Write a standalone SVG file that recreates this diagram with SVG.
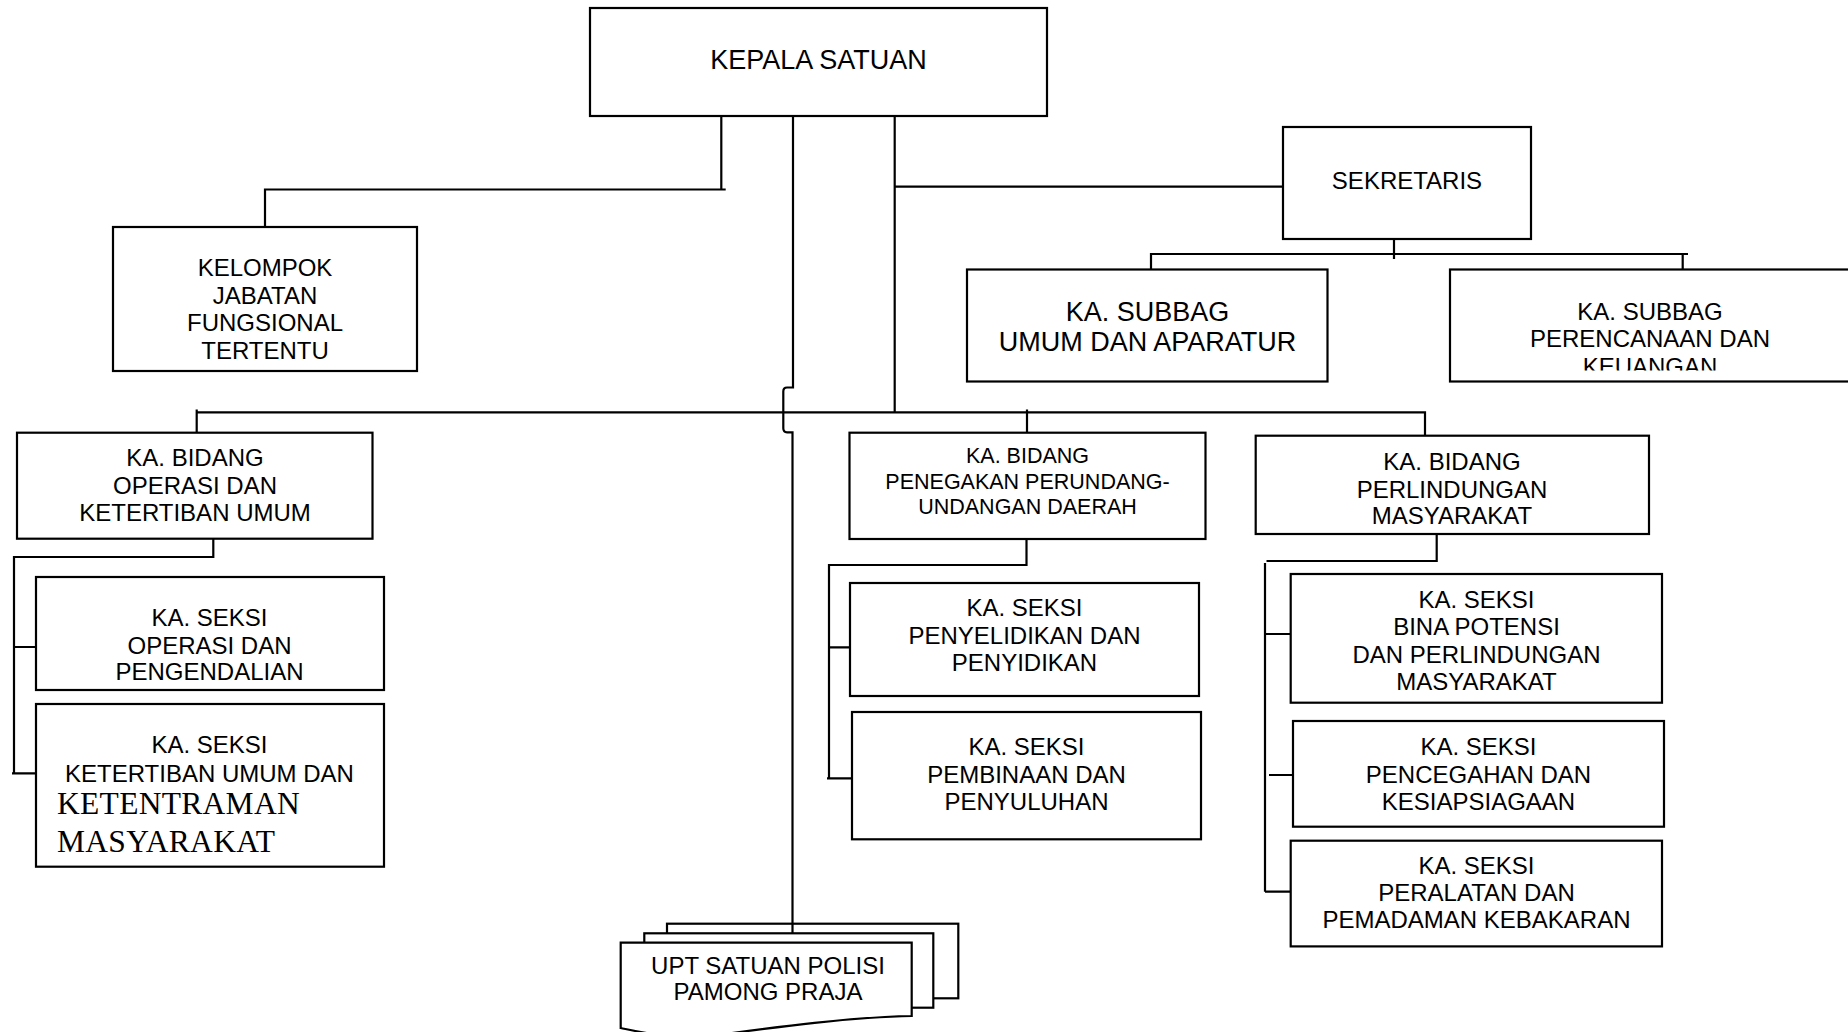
<svg xmlns="http://www.w3.org/2000/svg" width="1848" height="1032" viewBox="0 0 1848 1032">
<style>
.box{fill:#fff;stroke:#000;stroke-width:2.2}
.ln{fill:none;stroke:#000;stroke-width:2.2}
.t{font-family:"Liberation Sans",Arial,sans-serif;font-size:24px;text-anchor:middle;fill:#000}
.s{font-family:"Liberation Serif","Times New Roman",serif;font-size:31.5px;letter-spacing:0.3px;fill:#000}
</style>
<defs>
<clipPath id="clipPer"><rect x="1450" y="269" width="400" height="101.5"/></clipPath>
</defs>
<rect x="0" y="0" width="1848" height="1032" fill="#fff"/>

<g id="kepala">
<rect class="box" x="590" y="8" width="457" height="108"/>
<text class="t" x="818.5" y="68.8" style="font-size:27px">KEPALA SATUAN</text>
</g>

<g id="kelompok">
<rect class="box" x="113" y="227" width="304" height="144"/>
<text class="t" x="265" y="276.2">KELOMPOK</text>
<text class="t" x="265" y="303.7">JABATAN</text>
<text class="t" x="265" y="331.2">FUNGSIONAL</text>
<text class="t" x="265" y="358.7">TERTENTU</text>
</g>

<g id="sekretaris">
<rect class="box" x="1283" y="127" width="248" height="112"/>
<text class="t" x="1407" y="188.6">SEKRETARIS</text>
</g>

<g id="subbag-umum">
<rect class="box" x="967" y="269.5" width="360.5" height="112"/>
<text class="t" x="1147.5" y="321.4" style="font-size:27px">KA. SUBBAG</text>
<text class="t" x="1147.5" y="351.4" style="font-size:27px">UMUM DAN APARATUR</text>
</g>

<g id="subbag-perencanaan">
<rect class="box" x="1450" y="269.5" width="420" height="112"/>
<g clip-path="url(#clipPer)">
<text class="t" x="1650" y="320.3">KA. SUBBAG</text>
<text class="t" x="1650" y="347">PERENCANAAN DAN</text>
<text class="t" x="1650" y="375">KEUANGAN</text>
</g>
</g>

<g id="bidang-operasi">
<rect class="box" x="17" y="432.7" width="355.5" height="106"/>
<text class="t" x="195" y="466">KA. BIDANG</text>
<text class="t" x="195" y="494">OPERASI DAN</text>
<text class="t" x="195" y="521.2">KETERTIBAN UMUM</text>
</g>

<g id="seksi-operasi">
<rect class="box" x="36" y="577" width="348" height="113"/>
<text class="t" x="209.5" y="625.6">KA. SEKSI</text>
<text class="t" x="209.5" y="653.6">OPERASI DAN</text>
<text class="t" x="209.5" y="680.3">PENGENDALIAN</text>
</g>

<g id="seksi-ketertiban">
<rect class="box" x="36" y="704" width="348" height="162.7"/>
<text class="t" x="209.5" y="753.3">KA. SEKSI</text>
<text class="t" x="209.5" y="781.6">KETERTIBAN UMUM DAN</text>
<text class="s" x="57" y="814.3">KETENTRAMAN</text>
<text class="s" x="57" y="851.7">MASYARAKAT</text>
</g>

<g id="bidang-penegakan">
<rect class="box" x="849.5" y="432.7" width="356" height="106.3"/>
<text class="t" x="1027.5" y="463.2" style="font-size:21.5px">KA. BIDANG</text>
<text class="t" x="1027.5" y="489" style="font-size:21.5px">PENEGAKAN PERUNDANG-</text>
<text class="t" x="1027.5" y="513.5" style="font-size:21.5px">UNDANGAN DAERAH</text>
</g>

<g id="seksi-penyelidikan">
<rect class="box" x="850" y="583" width="349" height="113"/>
<text class="t" x="1024.5" y="616.2">KA. SEKSI</text>
<text class="t" x="1024.5" y="644.2">PENYELIDIKAN DAN</text>
<text class="t" x="1024.5" y="670.8">PENYIDIKAN</text>
</g>

<g id="seksi-pembinaan">
<rect class="box" x="852" y="712" width="349" height="127.3"/>
<text class="t" x="1026.5" y="755.2">KA. SEKSI</text>
<text class="t" x="1026.5" y="782.5">PEMBINAAN DAN</text>
<text class="t" x="1026.5" y="809.5">PENYULUHAN</text>
</g>

<g id="bidang-perlindungan">
<rect class="box" x="1255.7" y="435.7" width="393.3" height="98.3"/>
<text class="t" x="1452" y="469.6">KA. BIDANG</text>
<text class="t" x="1452" y="497.6">PERLINDUNGAN</text>
<text class="t" x="1452" y="524.3">MASYARAKAT</text>
</g>

<g id="seksi-bina">
<rect class="box" x="1290.7" y="574" width="371.3" height="128.7"/>
<text class="t" x="1476.5" y="607.6">KA. SEKSI</text>
<text class="t" x="1476.5" y="635.3">BINA POTENSI</text>
<text class="t" x="1476.5" y="662.9">DAN PERLINDUNGAN</text>
<text class="t" x="1476.5" y="689.6">MASYARAKAT</text>
</g>

<g id="seksi-pencegahan">
<rect class="box" x="1293" y="721" width="371" height="105.7"/>
<text class="t" x="1478.5" y="754.6">KA. SEKSI</text>
<text class="t" x="1478.5" y="782.6">PENCEGAHAN DAN</text>
<text class="t" x="1478.5" y="809.6">KESIAPSIAGAAN</text>
</g>

<g id="seksi-peralatan">
<rect class="box" x="1290.7" y="840.7" width="371.3" height="105.7"/>
<text class="t" x="1476.5" y="873.6">KA. SEKSI</text>
<text class="t" x="1476.5" y="900.9">PERALATAN DAN</text>
<text class="t" x="1476.5" y="927.6">PEMADAMAN KEBAKARAN</text>
</g>

<g id="upt">
<rect class="box" x="667" y="923.7" width="291.3" height="74.6"/>
<rect class="box" x="644.3" y="933.3" width="289" height="74.4"/>
<path class="box" d="M620.7,942.7 H911.7 V1016 C850,1017 770,1028 710,1036 C675,1040 645,1033 620.7,1028 Z"/>
<text class="t" x="768" y="973.6">UPT SATUAN POLISI</text>
<text class="t" x="768" y="1000.3">PAMONG PRAJA</text>
</g>

<g id="connectors">
<path class="ln" d="M721.3,116 V189.5 M725.7,189.5 H265 V227"/>
<path class="ln" d="M793,116 V387.5 H787 Q783.3,387.5 783.3,391.5 V428.3 Q783.3,432.3 787,432.3 H792.5 V933.3"/>
<path class="ln" d="M894.7,116 V412.3"/>
<path class="ln" d="M894.7,186.7 H1283"/>
<path class="ln" d="M1394,239 V259 M1151,269.5 V254 H1688 M1682.7,254 V269.5"/>
<path class="ln" d="M196.7,432.7 V409.5 M196.7,412.3 H1425 V435.7"/>
<path class="ln" d="M1027,409.5 V432.7"/>
<path class="ln" d="M213.3,538.7 V557 H14 V773.3 M14,647 H36 M12,773.3 H36"/>
<path class="ln" d="M1026.5,539 V565 H829 V778.3 M829,647.3 H850 M827,778.3 H852"/>
<path class="ln" d="M1436.7,534 V561 H1266.5 M1265,563 V891.7 M1265,634 H1290.7 M1269,775 H1293 M1265,891.7 H1290.7"/>
</g>
</svg>
